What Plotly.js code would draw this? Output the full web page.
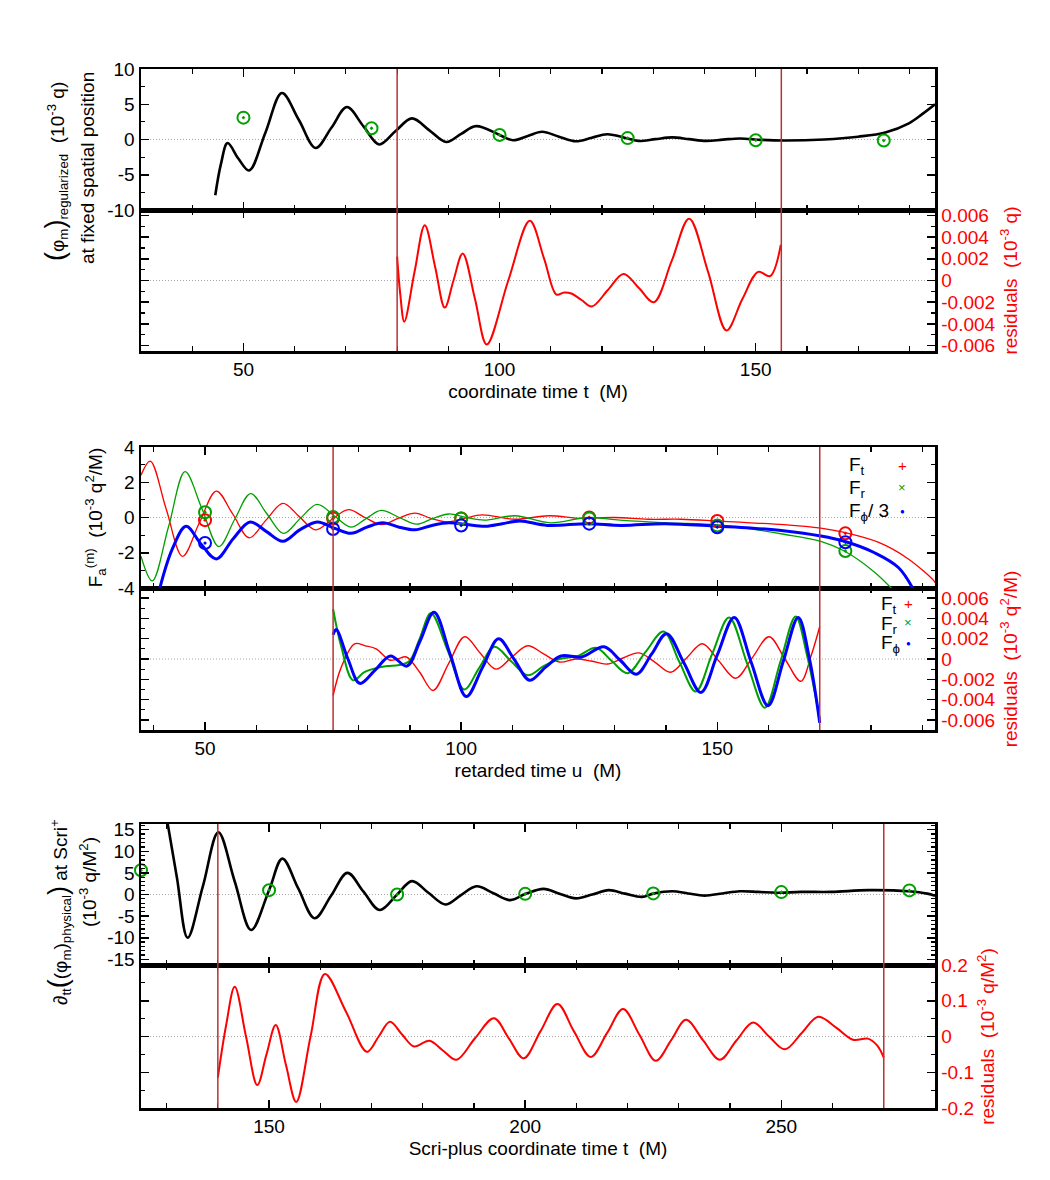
<!DOCTYPE html>
<html>
<head>
<meta charset="utf-8">
<script src="https://cdn.plot.ly/plotly-3.0.1.min.js"></script>
<style>
  html, body { margin: 0; padding: 0; background: #ffffff; }
  #chart { width: 1050px; height: 1180px; }
</style>
</head>
<body>
<div id="chart"></div>
<script>
// ---------- Panel 1: field at fixed spatial position ----------
const phiT = [44.5, 45.6, 46.9, 49.0, 51.1, 54.3, 57.5, 60.8, 64.1, 67.2, 70.2, 73.4, 76.5, 79.7, 82.9, 86.3, 89.6, 92.5, 95.4, 100, 102.6, 105.5, 108.3, 111.6, 114.9, 118.0, 121.0, 125, 127.1, 130.4, 133.7, 137.0, 140.3, 143.6, 146.9, 151, 155.5, 163.4, 170, 175.3, 179.9, 182.5, 185];
const phiV = [-7.9, -3.5, -0.5, -2.7, -4.4, 1.0, 6.6, 2.8, -1.2, 1.7, 4.6, 1.9, -0.7, 1.2, 3.0, 1.3, -0.35, 0.8, 1.9, 0.65, -0.1, 0.5, 1.1, 0.4, -0.25, 0.25, 0.75, 0.15, -0.2, 0.05, 0.3, 0.05, -0.2, -0.02, 0.15, -0.05, -0.15, 0.0, 0.4, 1.0, 2.3, 3.6, 5.0];
const phiCircT = [50, 75, 100, 125, 150, 175];
const phiCircV = [3.1, 1.6, 0.65, 0.2, -0.1, -0.15];
const phiResT = [80.0, 80.6, 81.4, 83.4, 85.4, 87.4, 89.3, 91.0, 92.8, 95.2, 97.5, 101.7, 105.9, 108.7, 111.1, 112.6, 114.0, 116.0, 118.0, 121.1, 124.2, 127.2, 130.1, 133.6, 137.0, 140.7, 144.3, 147.4, 150.5, 152.8, 154.9];
const phiResV = [0.0022, -0.0012, -0.0038, 0.0008, 0.0051, 0.0013, -0.0025, 0.0, 0.0025, -0.0017, -0.0059, 0.0, 0.0055, 0.002, -0.0013, -0.0011, -0.0012, -0.0018, -0.0024, -0.0009, 0.0006, -0.0007, -0.002, 0.0018, 0.0057, 0.0008, -0.0046, -0.0017, 0.0008, 0.0004, 0.0033];
const phiWindow = [80, 155];
const phiTicks = [-10, -5, 0, 5, 10];
const phiResTicks = [-0.006, -0.004, -0.002, 0, 0.002, 0.004, 0.006];

// ---------- Panel 2: self-force components vs retarded time ----------
const ftU = [37.5, 39.3, 42.4, 45.6, 48.9, 52.2, 55.4, 58.6, 61.9, 65.2, 68.4, 71.6, 74.8, 78.0, 81.2, 84.4, 87.7, 91.0, 94.1, 97.2, 100.6, 104.1, 110.5, 117.1, 123.5, 129.9, 136.5, 143, 150, 156.5, 163, 170.2, 174.8, 181.4, 187.3, 192.3, 192.5];
const ftV = [2.4, 3.2, 0.5, -2.2, -0.3, 1.5, 0.2, -1.15, -0.15, 0.8, 0.05, -0.7, -0.1, 0.45, 0.0, -0.4, -0.05, 0.25, -0.05, -0.25, -0.05, 0.15, -0.1, 0.1, -0.05, 0.0, -0.1, -0.1, -0.2, -0.3, -0.4, -0.6, -0.85, -1.4, -2.35, -3.6, -3.7];
const frU = [37.5, 39.7, 42.9, 46.1, 49.4, 52.7, 55.8, 58.9, 62.1, 65.3, 68.6, 71.9, 75.2, 78.5, 81.5, 84.4, 87.9, 91.3, 94.5, 97.6, 101, 104.5, 110.5, 117.4, 124.7, 131, 140, 150, 156.5, 163, 170.2, 174.8, 180.7, 184.6];
const frV = [-2.2, -3.6, -0.5, 2.6, 0.5, -1.65, -0.1, 1.35, 0.2, -0.9, -0.05, 0.75, 0.1, -0.55, -0.05, 0.4, 0.0, -0.38, -0.05, 0.2, 0.0, -0.15, 0.1, -0.3, 0.0, -0.15, -0.3, -0.42, -0.65, -0.95, -1.35, -1.9, -3.1, -4.2];
const fphU = [41.0, 43.6, 46.3, 49.2, 52.2, 55.5, 58.8, 62.0, 65.2, 68.5, 71.9, 75.2, 78.5, 81.6, 84.7, 87.9, 91.0, 94.3, 97.6, 101, 104.8, 108, 111.5, 116.8, 124.7, 131.3, 139.8, 150, 156.5, 162.9, 170.2, 174.8, 180.7, 185.4, 188.5];
const fphV = [-4.2, -1.8, -0.5, -1.5, -2.35, -1.2, -0.25, -0.8, -1.35, -0.7, -0.25, -0.6, -0.9, -0.55, -0.3, -0.55, -0.7, -0.45, -0.3, -0.4, -0.5, -0.35, -0.2, -0.45, -0.35, -0.45, -0.35, -0.5, -0.6, -0.75, -1.05, -1.35, -2.0, -2.85, -4.2];
const forceCircU = [50, 75, 100, 125, 150, 175];
const ftCircV = [-0.15, -0.05, -0.05, 0.0, -0.2, -0.9];
const frCircV = [0.3, 0.03, -0.05, -0.05, -0.45, -1.9];
const fphCircV = [-1.45, -0.65, -0.45, -0.35, -0.55, -1.4];
const ftResU = [75.0, 76.6, 79.2, 81.3, 83.4, 86.0, 87.6, 89.3, 91.9, 94.5, 97.6, 100.7, 103.7, 106.8, 109.9, 113.0, 116.1, 119.2, 122.4, 125.4, 128.5, 131.6, 134.7, 137.8, 140.9, 144.0, 147.1, 150.3, 153.6, 156.8, 160.1, 163.2, 166.3, 168.3, 170.0];
const ftResV = [-0.0036, -0.0008, 0.0015, 0.0013, 0.001, -0.0001, 0.0, 0.0002, -0.0013, -0.0031, -0.0004, 0.0022, 0.0006, -0.001, 0.0002, 0.0013, 0.0005, -0.0003, 0.0, -0.0002, -0.0005, 0.0001, 0.0006, -0.0003, -0.0013, 0.0001, 0.0015, -0.0002, -0.0019, 0.0001, 0.0022, 0.0, -0.0022, 0.0003, 0.0032];
const frResU = [75.0, 76.6, 78.9, 81.1, 83.4, 85.6, 87.9, 89.9, 91.9, 94.1, 97.4, 100.6, 103.5, 106.5, 109.7, 113.0, 116.1, 119.2, 122.8, 126.3, 129.4, 132.5, 136.0, 139.5, 142.6, 145.8, 149.0, 152.3, 155.8, 159.3, 162.3, 165.3, 167.5, 170.0];
const frResV = [0.0049, 0.0012, -0.0021, -0.0013, -0.0009, -0.0007, -0.0006, -0.0002, 0.002, 0.0045, 0.0008, -0.003, -0.0009, 0.0012, -0.0002, -0.0016, -0.0007, 0.0, 0.0003, 0.0011, -0.0002, -0.0014, 0.0007, 0.0027, -0.0003, -0.0032, 0.0005, 0.0041, -0.0004, -0.0048, -0.0003, 0.0042, 0.0004, -0.0059];
const fphResU = [75.0, 75.6, 77.9, 80.2, 83.2, 86.2, 89.4, 92.0, 94.7, 97.9, 101.0, 104.2, 107.3, 110.3, 113.4, 116.5, 119.5, 123.5, 127.9, 131.0, 134.2, 137.2, 140.1, 143.5, 146.8, 150.0, 153.3, 156.6, 159.9, 162.9, 165.8, 168.0, 170.0];
const fphResV = [0.0024, 0.0029, 0.0, -0.0024, -0.0011, 0.0003, -0.0007, 0.0018, 0.0046, 0.0004, -0.0037, -0.0008, 0.002, 0.0, -0.0021, -0.0008, 0.0003, 0.0002, 0.0012, -0.0001, -0.0015, 0.0005, 0.0025, -0.0004, -0.0033, 0.0004, 0.0041, -0.0003, -0.0046, -0.0002, 0.0041, 0.0, -0.0063];
const forceWindow = [75, 170];
const forceTicks = [-4, -2, 0, 2, 4];
const forceResTicks = [-0.006, -0.004, -0.002, 0, 0.002, 0.004, 0.006];

// ---------- Panel 3: second time derivative at Scri+ ----------
const scriT = [129.9, 132.0, 134.1, 137.1, 140.1, 143.3, 146.5, 150.0, 152.6, 155.7, 158.9, 162.1, 165.3, 168.4, 171.6, 175.0, 177.9, 181.1, 184.4, 187.4, 190.5, 193.8, 197.1, 200.1, 203.6, 206.7, 209.9, 213.1, 216.3, 219.5, 222.8, 225.0, 228.7, 231.8, 235.0, 238.5, 241.9, 245.5, 249.1, 253.8, 259.7, 267.0, 274.9, 278.5, 280.0];
const scriV = [18.5, 4.0, -10.0, 2.0, 14.4, 3.0, -8.2, 1.0, 8.3, 1.4, -5.5, -0.3, 5.0, 0.7, -3.6, 0.0, 3.1, 0.4, -2.3, -0.2, 1.9, 0.3, -1.3, 0.15, 1.3, 0.2, -0.9, 0.0, 1.0, 0.2, -0.55, 0.2, 0.75, 0.25, -0.25, 0.25, 0.75, 0.6, 0.4, 0.6, 0.6, 1.0, 0.75, 0.2, -0.3];
const scriCircT = [125, 150, 175, 200, 225, 250, 275];
const scriCircV = [5.6, 1.0, 0.0, 0.15, 0.25, 0.55, 0.95];
const scriResT = [140.0, 141.6, 143.3, 145.5, 147.7, 149.5, 151.3, 153.3, 155.3, 158.1, 160.9, 165.0, 169.1, 171.4, 173.6, 176.0, 178.3, 181.3, 184.0, 186.6, 190.2, 193.9, 196.8, 199.7, 203.0, 206.3, 209.5, 212.8, 216.0, 219.1, 222.3, 225.5, 228.5, 231.4, 234.7, 238.0, 241.2, 244.5, 247.6, 250.7, 254.0, 257.2, 260.7, 264.0, 266.9, 268.7, 270.0];
const scriResV = [-0.115, 0.03, 0.139, 0.0, -0.136, -0.05, 0.032, -0.08, -0.183, 0.0, 0.175, 0.07, -0.043, 0.0, 0.041, 0.005, -0.028, -0.012, -0.04, -0.065, -0.005, 0.051, -0.005, -0.061, 0.015, 0.091, 0.015, -0.057, 0.01, 0.077, 0.005, -0.068, -0.01, 0.047, -0.01, -0.065, -0.012, 0.039, 0.0, -0.036, 0.01, 0.055, 0.025, -0.009, -0.006, -0.025, -0.059];
const scriWindow = [140, 270];
const scriTicks = [-15, -10, -5, 0, 5, 10, 15];
const scriResTicks = [-0.2, -0.1, 0, 0.1, 0.2];

// ---------- layout helpers ----------
const W = 1050, H = 1180;
const px = x => x / W;
const py = y => 1 - y / H;
const FONT = 'Liberation Sans, Arial, sans-serif';
const FS = 19;
const RED = '#ff0000', GREEN = '#00a000', BLUE = '#0000ff', WIN = '#b83232';
const xDom = [px(141), px(935)];

// panel pixel extents: [upper top, divider, lower bottom]
const P1 = [69, 210, 351];
const P2 = [447, 588, 730];
const P3 = [824, 965, 1108];

function xAxis(range, anchor, labelled, title, matches) {
  const ax = {
    domain: xDom, range: range, anchor: anchor,
    showline: true, linewidth: 2.5, linecolor: '#000', mirror: 'ticks',
    ticks: 'inside', ticklen: 8, tickwidth: 1.5, tickcolor: '#000',
    tickmode: 'linear', tick0: 0, dtick: 50,
    minor: { ticks: 'inside', ticklen: 5, tickwidth: 1.2, tickcolor: '#000', dtick: 10, tick0: 0 },
    showgrid: false, zeroline: false,
    showticklabels: labelled,
    tickfont: { family: FONT, size: FS, color: '#000' }
  };
  if (matches) ax.matches = matches;
  if (title) ax.title = { text: title, font: { family: FONT, size: FS, color: '#000' }, standoff: 6 };
  return ax;
}

function yAxis(range, dom, anchor, ticks, minorStep, side, color, title, standoff) {
  const ax = {
    domain: [py(dom[1]), py(dom[0])], range: range, anchor: anchor, side: side,
    showline: true, linewidth: 2.5, linecolor: '#000', mirror: 'ticks',
    ticks: 'inside', ticklen: 8, tickwidth: 1.5, tickcolor: '#000',
    tickmode: 'array', tickvals: ticks, ticktext: ticks.map(String),
    minor: { ticks: 'inside', ticklen: 4, tickwidth: 1.2, tickcolor: '#000', dtick: minorStep, tick0: 0 },
    showgrid: false, zeroline: false,
    tickfont: { family: FONT, size: FS, color: color }
  };
  if (title) ax.title = { text: title, font: { family: FONT, size: FS, color: color }, standoff: standoff };
  return ax;
}

function curve(x, y, xa, ya, color, width) {
  return { type: 'scatter', mode: 'lines', x: x, y: y, xaxis: xa, yaxis: ya,
           line: { color: color, width: width, shape: 'spline', smoothing: 1 },
           hoverinfo: 'skip', showlegend: false };
}
function rings(x, y, xa, ya, color) {
  return { type: 'scatter', mode: 'markers', x: x, y: y, xaxis: xa, yaxis: ya, cliponaxis: false,
           marker: { symbol: 'circle-open-dot', size: 12, color: color, line: { width: 2, color: color } },
           hoverinfo: 'skip', showlegend: false };
}

const traces = [
  curve(phiT, phiV, 'x2', 'y', '#000', 2.6),
  rings(phiCircT, phiCircV, 'x2', 'y', GREEN),
  curve(phiResT, phiResV, 'x', 'y2', RED, 2),

  curve(ftU, ftV, 'x4', 'y3', RED, 1.3),
  curve(frU, frV, 'x4', 'y3', GREEN, 1.3),
  curve(fphU, fphV, 'x4', 'y3', BLUE, 3),
  rings(forceCircU, ftCircV, 'x4', 'y3', RED),
  rings(forceCircU, frCircV, 'x4', 'y3', GREEN),
  rings(forceCircU, fphCircV, 'x4', 'y3', BLUE),
  curve(ftResU, ftResV, 'x3', 'y4', RED, 1.4),
  curve(frResU, frResV, 'x3', 'y4', GREEN, 2),
  curve(fphResU, fphResV, 'x3', 'y4', BLUE, 3),

  curve(scriT, scriV, 'x6', 'y5', '#000', 2.6),
  rings(scriCircT, scriCircV, 'x6', 'y5', GREEN),
  curve(scriResT, scriResV, 'x5', 'y6', RED, 2)
];

// dotted zero reference in every sub-plot, and the fit window markers
const zeroPairs = [['x2', 'y'], ['x', 'y2'], ['x4', 'y3'], ['x3', 'y4'], ['x6', 'y5'], ['x5', 'y6']];
const shapes = zeroPairs.map(([xa, ya]) => ({
  type: 'line', xref: xa + ' domain', yref: ya, x0: 0, x1: 1, y0: 0, y1: 0,
  line: { color: '#a8a8a8', width: 1, dash: '1px,2px' }, layer: 'below'
}));
[[phiWindow, 'x', P1], [forceWindow, 'x3', P2], [scriWindow, 'x5', P3]].forEach(([win, xa, P]) => {
  win.forEach(t => shapes.push({
    type: 'line', xref: xa, yref: 'paper', x0: t, x1: t, y0: py(P[2]), y1: py(P[0]),
    line: { color: WIN, width: 1.5 }
  }));
});

const BIG = '<span style="font-size:27px">';
const ann = (x, y, text, opts) => Object.assign({
  xref: 'paper', yref: 'paper', x: px(x), y: py(y), text: text, showarrow: false,
  font: { family: FONT, size: 19, color: '#000' }, xanchor: 'center', yanchor: 'middle'
}, opts || {});

const annotations = [
  // left axis labels
  ann(55, 172, BIG + '(</span>φ<sub>m</sub>' + BIG + ')</span><sub>regularized</sub>\u00a0\u00a0(10<sup>-3</sup> q)', { textangle: -90 }),
  ann(88, 168, 'at fixed spatial position', { textangle: -90 }),
  ann(58, 912, '∂<sub>tt</sub>' + BIG + '(</span>(φ<sub>m</sub>)<sub>physical</sub>' + BIG + ')</span>\u00a0at Scri<sup>+</sup>', { textangle: -90 }),
  ann(88, 882, '(10<sup>-3</sup> q/M<sup>2</sup>)', { textangle: -90 }),
  // key for the force components
  ann(847, 466, 'F<sub>t</sub>', { xanchor: 'left' }),
  ann(847, 489, 'F<sub>r</sub>', { xanchor: 'left' }),
  ann(847, 512, 'F<sub>ϕ</sub>/ 3', { xanchor: 'left' }),
  ann(902, 465, '+', { font: { family: FONT, size: 15, color: RED } }),
  ann(902, 488, '×', { font: { family: FONT, size: 13, color: GREEN } }),
  ann(902, 511, '●', { font: { family: FONT, size: 8, color: BLUE } }),
  ann(879, 605, 'F<sub>t</sub>', { xanchor: 'left' }),
  ann(879, 625, 'F<sub>r</sub>', { xanchor: 'left' }),
  ann(879, 644, 'F<sub>ϕ</sub>', { xanchor: 'left' }),
  ann(908, 603, '+', { font: { family: FONT, size: 15, color: RED } }),
  ann(908, 623, '×', { font: { family: FONT, size: 13, color: GREEN } }),
  ann(908, 643, '●', { font: { family: FONT, size: 8, color: BLUE } })
];

const layout = {
  width: W, height: H, autosize: false,
  margin: { l: 0, r: 0, t: 0, b: 0 },
  paper_bgcolor: '#fff', plot_bgcolor: '#fff',
  showlegend: false,
  font: { family: FONT, size: FS, color: '#000' },

  xaxis:  xAxis([30, 185], 'y2', true, 'coordinate time t\u00a0\u00a0(M)'),
  xaxis2: xAxis([30, 185], 'y', false, null, 'x'),
  yaxis:  yAxis([-10, 10], [P1[0], P1[1]], 'x2', phiTicks, 2.5, 'left', '#000'),
  yaxis2: yAxis([-0.0065, 0.0065], [P1[1], P1[2]], 'x', phiResTicks, 0.001, 'right', RED,
                'residuals\u00a0\u00a0(10<sup>-3</sup> q)', 9),

  xaxis3: xAxis([37.5, 192.5], 'y4', true, 'retarded time u\u00a0\u00a0(M)'),
  xaxis4: xAxis([37.5, 192.5], 'y3', false, null, 'x3'),
  yaxis3: yAxis([-4, 4], [P2[0], P2[1]], 'x4', forceTicks, 1, 'left', '#000',
                'F<sub>a</sub><sup>(m)</sup>\u00a0\u00a0(10<sup>-3</sup> q<sup>2</sup>/M)', 10),
  yaxis4: yAxis([-0.007, 0.007], [P2[1], P2[2]], 'x3', forceResTicks, 0.001, 'right', RED,
                'residuals\u00a0\u00a0(10<sup>-3</sup> q<sup>2</sup>/M)', 9),

  xaxis5: xAxis([125, 280], 'y6', true, 'Scri-plus coordinate time t\u00a0\u00a0(M)'),
  xaxis6: xAxis([125, 280], 'y5', false, null, 'x5'),
  yaxis5: yAxis([-16.3, 16.3], [P3[0], P3[1]], 'x6', scriTicks, 1, 'left', '#000'),
  yaxis6: yAxis([-0.2, 0.2], [P3[1], P3[2]], 'x5', scriResTicks, 0.05, 'right', RED,
                'residuals\u00a0\u00a0(10<sup>-3</sup> q/M<sup>2</sup>)', 6),

  shapes: shapes,
  annotations: annotations
};

Plotly.newPlot('chart', traces, layout, { staticPlot: true, displayModeBar: false });
</script>
</body>
</html>
